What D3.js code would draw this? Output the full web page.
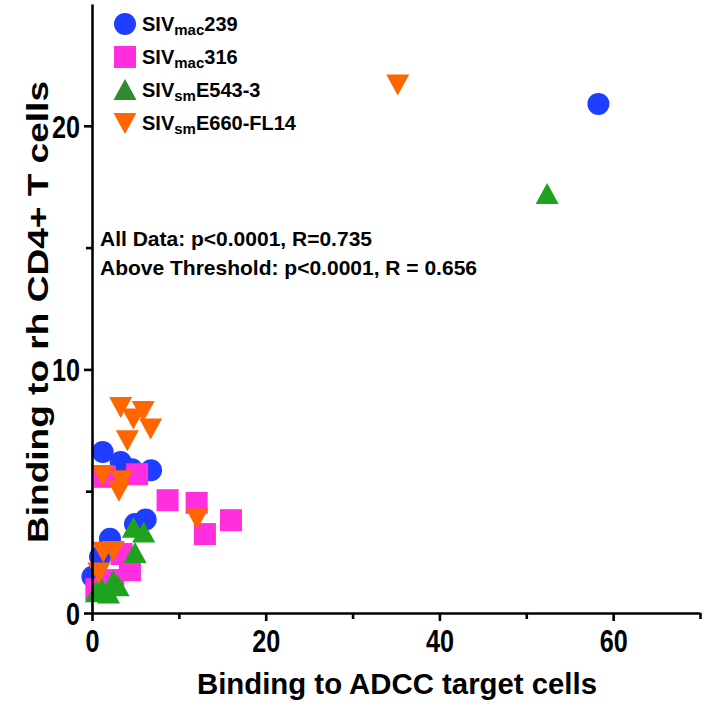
<!DOCTYPE html>
<html>
<head>
<meta charset="utf-8">
<script src="https://cdn.jsdelivr.net/npm/d3@7"></script>
<style>
html,body{margin:0;padding:0;background:#fff;}
svg{display:block;}
text{font-family:"Liberation Sans",Arial,Helvetica,sans-serif;font-weight:bold;fill:#000;}
</style>
</head>
<body>
<svg id="chart" width="706" height="703"></svg>
<script>
// ---- data ----
const seriesNames = ["SIVmac239","SIVmac316","SIVsmE543-3","SIVsmE660-FL14"];
const mac239X = [58.3,1.23,3.3,4.6,6.8,4.95,6.18,2.07,0.92,0.05];
const mac239Y = [20.9,6.61,6.2,5.9,5.86,3.65,3.84,3.05,2.31,1.49];
const mac316X = [1.5,5.2,8.7,12.05,16.0,13.0,3.4,4.37,0.5,2.45];
const mac316Y = [5.59,5.7,4.63,4.52,3.81,3.24,2.42,1.76,0.98,1.35];
const e543X = [52.4,4.76,5.95,4.95,2.45,1.1,0.5,1.9,3.0];
const e543Y = [17.2,3.5,3.3,2.46,1.3,1.0,0.85,0.8,1.1];
const e660X = [35.2,3.3,5.9,4.76,6.75,4.07,1.23,3.4,3.1,12.1,1.3,2.45,0.8];
const e660Y = [21.7,8.46,8.29,7.98,7.57,7.09,5.66,5.45,5.02,3.88,2.51,2.55,1.66];
const xMajorTicks = [0,20,40,60];
const xMinorTicks = [10,30,50,70];
const yMajorTicks = [0,10,20];
const yMinorTicks = [5,15];
const statLines = ["All Data: p<0.0001, R=0.735","Above Threshold: p<0.0001, R = 0.656"];
const xTitle = "Binding to ADCC target cells";
const yTitle = "Binding to rh CD4+ T cells";

// ---- layout ----
const svg = d3.select("#chart");
const x = d3.scaleLinear().domain([0,70]).range([92,700]);
const y = d3.scaleLinear().domain([0,25]).range([613,4]);

const colors = ["#1f3dff","#ff2fe0","#1fa31f","#ff6600"];
const legendColors = ["#1f3dff","#ff2fe0","#2e8b2e","#ff6600"];

function shapePath(kind, cx, cy){
  const p = d3.path();
  if(kind===0){ p.arc(cx,cy,11,0,2*Math.PI); }
  else if(kind===1){ p.rect(cx-11,cy-11,22,22); }
  else if(kind===2){ p.moveTo(cx,cy-11); p.lineTo(cx+11.5,cy+10); p.lineTo(cx-11.5,cy+10); p.closePath(); }
  else { p.moveTo(cx-11.5,cy-10); p.lineTo(cx+11.5,cy-10); p.lineTo(cx,cy+11); p.closePath(); }
  return p.toString();
}

const series = [
  {xs:mac239X, ys:mac239Y},
  {xs:mac316X, ys:mac316Y},
  {xs:e543X, ys:e543Y},
  {xs:e660X, ys:e660Y}
];

// points
series.forEach((s,i)=>{
  const pts = s.xs.map((v,j)=>({x:v,y:s.ys[j]}));
  svg.append("g").selectAll("path").data(pts).join("path")
    .attr("d",d=>shapePath(i,x(d.x),y(d.y)))
    .attr("fill",colors[i]);
});

// axes
const xAxis = svg.append("g").attr("transform",`translate(0,${y(0)})`)
  .call(d3.axisBottom(x).tickValues(xMajorTicks).tickSize(8).tickSizeOuter(0).tickPadding(8).tickFormat(d3.format("d")));
const xMinor = svg.append("g").attr("transform",`translate(0,${y(0)})`)
  .call(d3.axisBottom(x).tickValues(xMinorTicks).tickSize(6).tickSizeOuter(0).tickFormat(""));
xMinor.select(".domain").remove();
const yAxis = svg.append("g").attr("transform",`translate(${x(0)},0)`)
  .call(d3.axisLeft(y).tickValues(yMajorTicks).tickSize(8).tickSizeOuter(0).tickPadding(4).tickFormat(d3.format("d")));
const yMinor = svg.append("g").attr("transform",`translate(${x(0)},0)`)
  .call(d3.axisLeft(y).tickValues(yMinorTicks).tickSize(6).tickSizeOuter(0).tickFormat(""));
yMinor.select(".domain").remove();
svg.selectAll(".domain, .tick line").attr("stroke","#000").attr("stroke-width",2.6);
svg.selectAll(".tick text").attr("font-size",32).attr("font-family",'"Liberation Sans",Arial,sans-serif').attr("font-weight","bold").attr("fill","#000")
  .each(function(){ const s=this.textContent; if(s.length) d3.select(this).attr("textLength",s.length*14).attr("lengthAdjust","spacingAndGlyphs"); });
yAxis.selectAll(".tick text").attr("dy","0.36em");

// axis titles
svg.append("text").attr("x",397).attr("y",694).attr("text-anchor","middle")
  .attr("font-size",29).attr("textLength",400).attr("lengthAdjust","spacingAndGlyphs").text(xTitle);
svg.append("text").attr("transform","translate(48,312) rotate(-90)").attr("text-anchor","middle")
  .attr("font-size",29).attr("textLength",462).attr("lengthAdjust","spacingAndGlyphs").text(yTitle);

// stats
svg.selectAll("text.stat").data(statLines).join("text").attr("class","stat")
  .attr("x",100).attr("y",(d,i)=>246+i*29).attr("font-size",21).text(d=>d);

// legend
const legendY = [24,57,90,123];
const legendParts = [["SIV","mac","239"],["SIV","mac","316"],["SIV","sm","E543-3"],["SIV","sm","E660-FL14"]];
legendParts.forEach((parts,i)=>{
  svg.append("path").attr("d",shapePath(i,125,legendY[i])).attr("fill",legendColors[i]);
  const t = svg.append("text").attr("x",142).attr("y",legendY[i]+7).attr("font-size",20);
  t.append("tspan").text(parts[0]);
  t.append("tspan").attr("font-size",15).attr("dy",4).text(parts[1]);
  t.append("tspan").attr("dy",-4).text(parts[2]);
});
</script>
</body>
</html>
